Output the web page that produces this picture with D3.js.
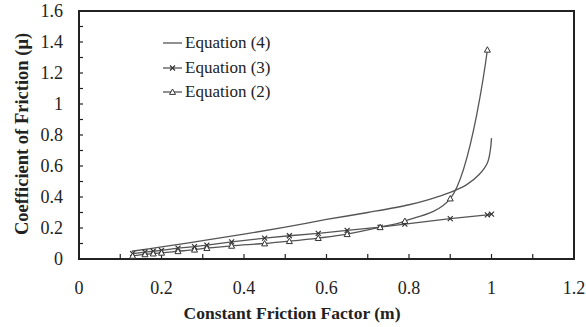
<!DOCTYPE html>
<html><head><meta charset="utf-8">
<script src="https://cdn.jsdelivr.net/npm/d3@7"></script>
<style>body{margin:0;background:#fff}svg{display:block}svg text{font-family:"Liberation Serif","Times New Roman",serif}</style>
</head><body>
<svg id="c" width="586" height="327"></svg>
<script>
// Data
const eq4M  = [0.128, 0.2, 0.3, 0.4, 0.5, 0.6, 0.7, 0.8, 0.85, 0.9, 0.94, 0.97, 0.99, 0.997, 1.0];
const eq4Mu = [0.05, 0.078, 0.118, 0.16, 0.205, 0.255, 0.3, 0.35, 0.385, 0.43, 0.48, 0.545, 0.62, 0.70, 0.78];
const eq3M  = [0.13, 0.16, 0.18, 0.2, 0.24, 0.28, 0.31, 0.37, 0.45, 0.51, 0.58, 0.65, 0.73, 0.79, 0.9, 0.99, 1.0];
const eq3Mu = [0.035, 0.045, 0.05, 0.055, 0.07, 0.08, 0.09, 0.11, 0.135, 0.15, 0.165, 0.185, 0.205, 0.225, 0.26, 0.285, 0.29];
const eq2M  = [0.13, 0.16, 0.18, 0.2, 0.24, 0.28, 0.31, 0.37, 0.45, 0.51, 0.58, 0.65, 0.73, 0.79, 0.9, 0.99];
const eq2Mu = [0.02, 0.03, 0.035, 0.04, 0.05, 0.06, 0.07, 0.085, 0.1, 0.115, 0.135, 0.16, 0.205, 0.245, 0.39, 1.35];
const xTicks = [0, 0.2, 0.4, 0.6, 0.8, 1, 1.2];
const yTicks = [0, 0.2, 0.4, 0.6, 0.8, 1, 1.2, 1.4, 1.6];
const legendLabels = ["Equation (4)", "Equation (3)", "Equation (2)"];

const svg = d3.select("#c");
const L = 79, R = 574, T = 11, B = 259;
const x = d3.scaleLinear().domain([0, 1.2]).range([L, R]);
const y = d3.scaleLinear().domain([0, 1.6]).range([B, T]);
const lineCol = "#555";
const txtCol = "#222";

// minor/major ticks inside
const xMinor = d3.range(1, 12).map(i => i / 10);
const yMinor = d3.range(1, 16).map(i => i / 10);
svg.append("g").selectAll("line").data(xMinor).join("line")
  .attr("x1", d => x(d)).attr("x2", d => x(d)).attr("y1", B).attr("y2", B - 5)
  .attr("stroke", "#222").attr("stroke-width", 1.2);
svg.append("g").selectAll("line").data(yMinor).join("line")
  .attr("y1", d => y(d)).attr("y2", d => y(d)).attr("x1", L).attr("x2", L + 4)
  .attr("stroke", "#222").attr("stroke-width", 1.2);

// frame
svg.append("rect").attr("x", L).attr("y", T).attr("width", R - L).attr("height", B - T)
  .attr("fill", "none").attr("stroke", "#222").attr("stroke-width", 2);

// tick labels
svg.append("g").selectAll("text").data(xTicks).join("text")
  .attr("x", d => x(d)).attr("y", 294).attr("text-anchor", "middle").attr("fill", txtCol)
  .attr("font-size", 18).text(d => d3.format("")(d));
svg.append("g").selectAll("text").data(yTicks).join("text")
  .attr("x", 63).attr("y", d => y(d) + 6).attr("text-anchor", "end").attr("fill", txtCol)
  .attr("font-size", 18).text(d => d3.format("")(d));

// axis titles
svg.append("text").attr("x", 292).attr("y", 319).attr("text-anchor", "middle").attr("fill", txtCol)
  .attr("font-size", 17.5).attr("font-weight", "bold").text("Constant Friction Factor (m)");
svg.append("text").attr("transform", "translate(28,134) rotate(-90)").attr("text-anchor", "middle").attr("fill", txtCol)
  .attr("font-size", 18.5).attr("font-weight", "bold").text("Coefficient of Friction (μ)");

// lines
const eq4 = eq4M.map((m, i) => [m, eq4Mu[i]]);
const eq3 = eq3M.map((m, i) => [m, eq3Mu[i]]);
const eq2 = eq2M.map((m, i) => [m, eq2Mu[i]]);
const lineSmooth = d3.line().x(d => x(d[0])).y(d => y(d[1])).curve(d3.curveCatmullRom.alpha(0.5));
const lineLin = d3.line().x(d => x(d[0])).y(d => y(d[1]));

svg.append("path").attr("d", lineSmooth(eq4)).attr("fill", "none").attr("stroke", lineCol).attr("stroke-width", 1.3);
svg.append("path").attr("d", lineLin(eq3)).attr("fill", "none").attr("stroke", lineCol).attr("stroke-width", 1.3);
svg.append("path").attr("d", lineSmooth(eq2)).attr("fill", "none").attr("stroke", lineCol).attr("stroke-width", 1.3);

// markers
function crossMarker(g, cx, cy) {
  const s = 2.5;
  g.append("path").attr("d", `M${cx - s},${cy - s}L${cx + s},${cy + s}M${cx - s},${cy + s}L${cx + s},${cy - s}`)
    .attr("stroke", "#333").attr("stroke-width", 1.2).attr("fill", "none");
}
function triMarker(g, cx, cy) {
  const s = 3;
  g.append("path").attr("d", `M${cx},${cy - s}L${cx + s},${cy + s * 0.8}L${cx - s},${cy + s * 0.8}Z`)
    .attr("stroke", "#333").attr("stroke-width", 1).attr("fill", "#fff");
}
const gm = svg.append("g");
eq3.forEach(d => crossMarker(gm, x(d[0]), y(d[1])));
eq2.forEach(d => triMarker(gm, x(d[0]), y(d[1])));

// legend
const lg = svg.append("g");
const ly = [43, 68, 92];
legendLabels.forEach((t, i) => {
  lg.append("line").attr("x1", 163).attr("x2", 182).attr("y1", ly[i]).attr("y2", ly[i])
    .attr("stroke", lineCol).attr("stroke-width", 1.3);
  if (i === 1) crossMarker(lg, 172.5, ly[i]);
  if (i === 2) triMarker(lg, 172.5, ly[i]);
  lg.append("text").attr("x", 185).attr("y", ly[i] + 5).attr("font-size", 17).attr("fill", txtCol).text(t);
});
</script>
</body></html>
